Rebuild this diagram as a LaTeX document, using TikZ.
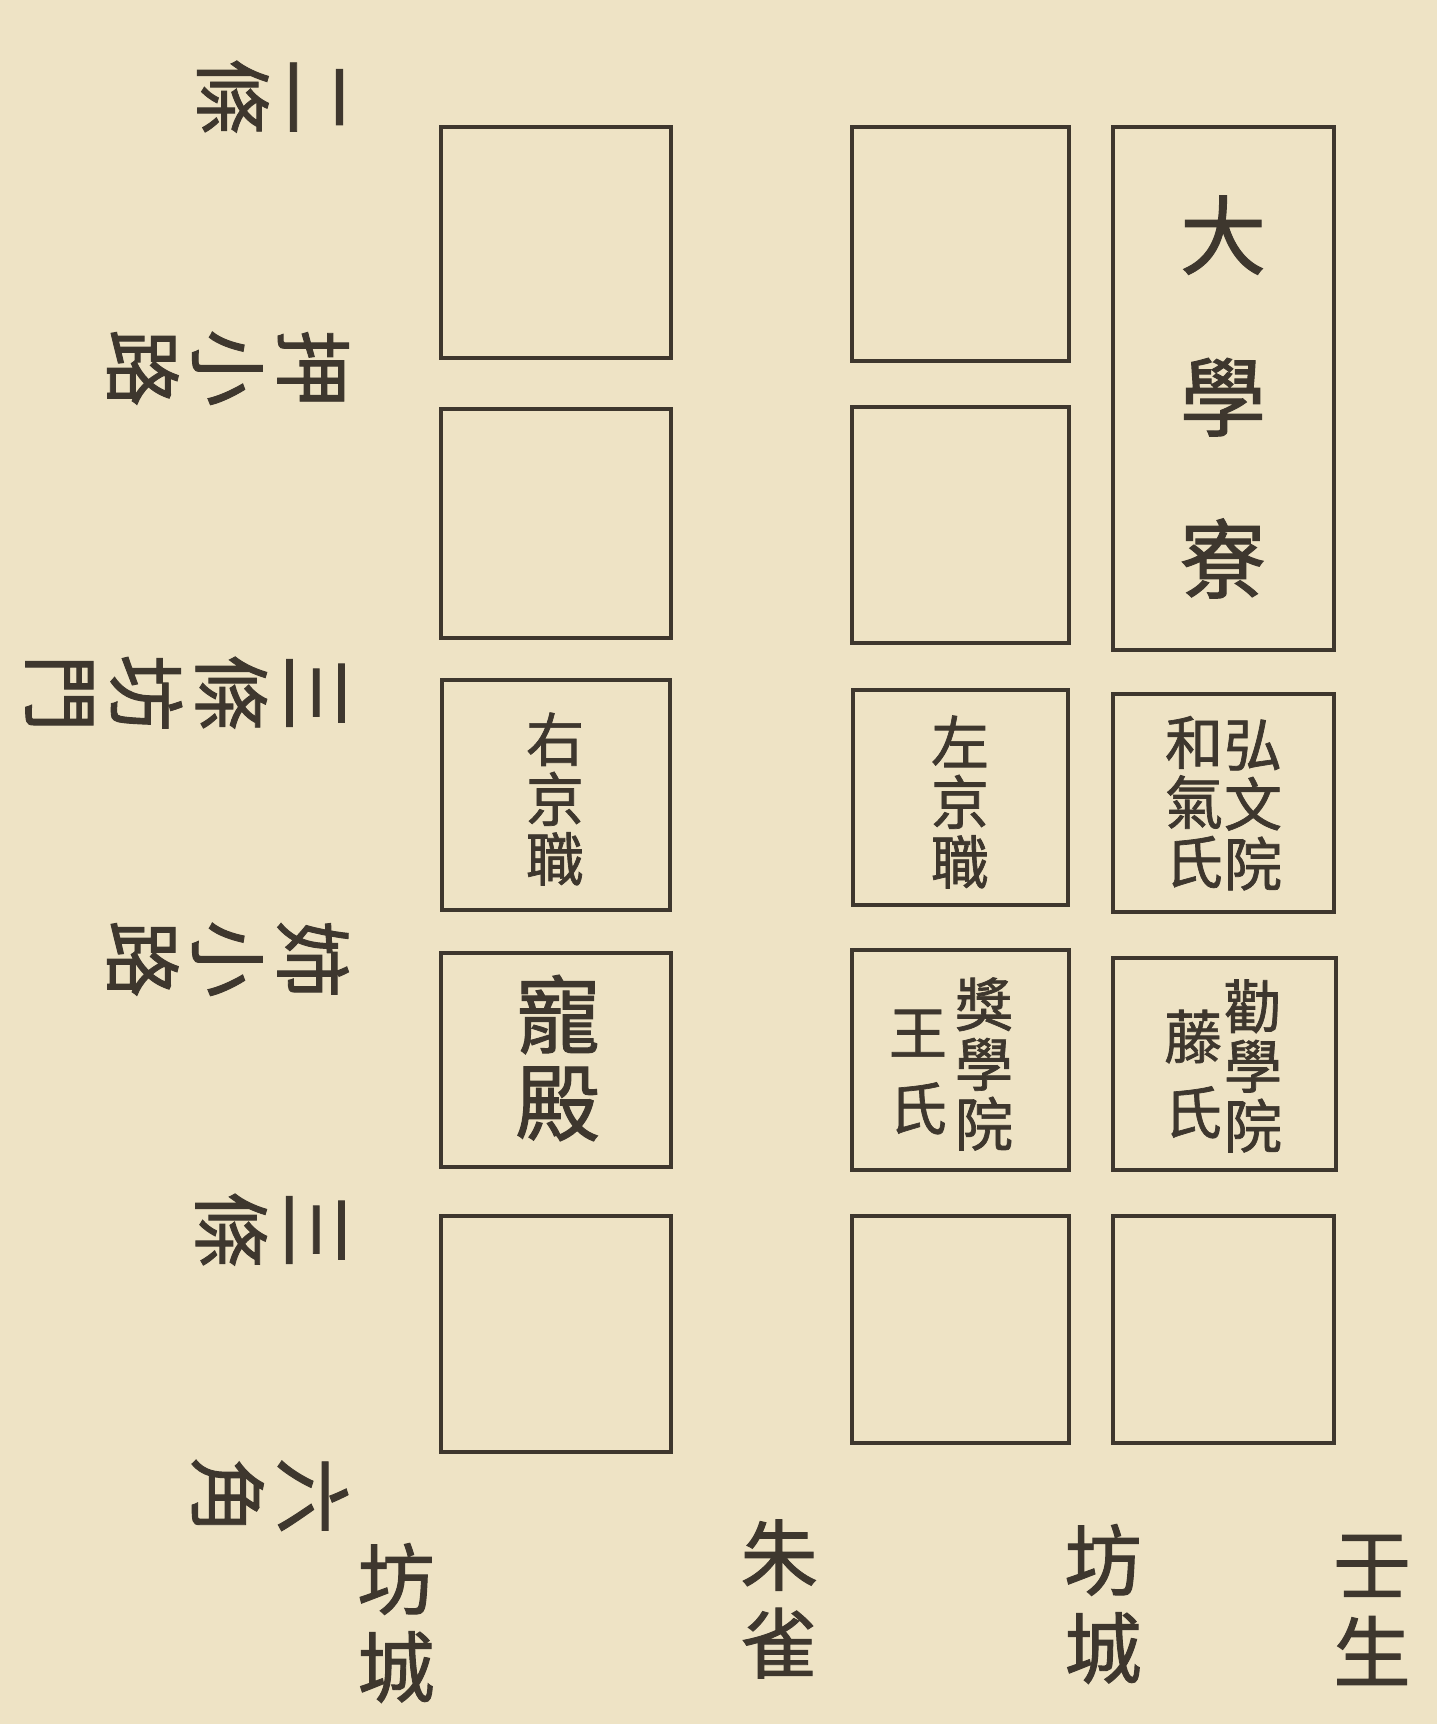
\documentclass[tikz,border=0pt]{standalone}
\usepackage{fontspec}
\newfontfamily\cjk[FakeBold=1.2]{Noto Sans CJK TC}
\usepackage{tikz}
\definecolor{paper}{RGB}{238,227,197}
\definecolor{ink}{RGB}{62,55,46}
\tikzset{mblock/.style={draw=ink,line width=1.15pt}}
\tikzset{mroad/.style={rotate=-90,align=center,inner sep=0pt,text=ink,font=\cjk\fontsize{22}{24.2}\selectfont}}
\tikzset{mstreet/.style={align=center,inner sep=0pt,text=ink,font=\cjk\fontsize{22}{25}\selectfont}}
\tikzset{mname/.style={align=center,inner sep=0pt,text=ink,font=\cjk\fontsize{16.5}{17}\selectfont}}
\tikzset{mclan/.style={align=center,inner sep=0pt,text=ink,font=\cjk\fontsize{16.5}{21.5}\selectfont}}

\begin{document}
\begin{tikzpicture}[x=0.01cm,y=-0.01cm]
\fill[paper] (0,0) rectangle (1437,1724);
\useasboundingbox (0,0) rectangle (1437,1724);

% blocks west of suzaku
\draw[mblock] (441,127) rectangle (671,358);
\draw[mblock] (441,409) rectangle (671,638);
\draw[mblock] (442,680) rectangle (670,910);
\draw[mblock] (441,953) rectangle (671,1167);
\draw[mblock] (441,1216) rectangle (671,1452);

% blocks east of suzaku
\draw[mblock] (852,127) rectangle (1069,361);
\draw[mblock] (852,407) rectangle (1069,643);
\draw[mblock] (853,690) rectangle (1068,905);
\draw[mblock] (852,950) rectangle (1069,1170);
\draw[mblock] (852,1216) rectangle (1069,1443);

\draw[mblock] (1113,127) rectangle (1334,650);
\draw[mblock] (1113,694) rectangle (1334,912);
\draw[mblock] (1113,958) rectangle (1336,1170);
\draw[mblock] (1113,1216) rectangle (1334,1443);

\node[mstreet,font=\cjk\fontsize{24.5}{46}\selectfont] (daigaku) at (1223,397) {大\\學\\寮};
\node[mname] (ukyo) at (555,799) {右\\京\\職};
\node[mstreet,font=\cjk\fontsize{24}{25}\selectfont] (choden) at (558,1058) {寵\\殿};
\node[mname] (sakyo) at (960,802) {左\\京\\職};
\node[mname] (kobun) at (1253,805) {弘\\文\\院};
\node[mname] (wake) at (1194,802) {和\\氣\\氏};
\node[mname] (shogaku) at (984,1064) {獎\\學\\院};
\node[mclan] (ou) at (918,1072) {王\\氏};
\node[mname] (kangaku) at (1253,1066) {勸\\學\\院};
\node[mclan] (fuji) at (1193,1074) {藤\\氏};

% east-west roads
\node[mroad] (nijo) at (270,97) {二\\條};
\node[mroad] (oshi) at (228,368) {押\\小\\路};
\node[mroad] (sanjobo) at (185,693) {三\\條\\坊\\門};
\node[mroad] (ane) at (228,959) {姉\\小\\路};
\node[mroad] (sanjo) at (270,1230) {三\\條};
\node[mroad] (rokkaku) at (270,1496) {六\\角};

% north-south roads
\node[mstreet] (bojo1) at (396,1623) {坊\\城};
\node[mstreet] (suzaku) at (779,1599) {朱\\雀};
\node[mstreet] (bojo2) at (1103,1604) {坊\\城};
\node[mstreet] (mibu) at (1372,1610) {壬\\生};

\end{tikzpicture}
\end{document}
